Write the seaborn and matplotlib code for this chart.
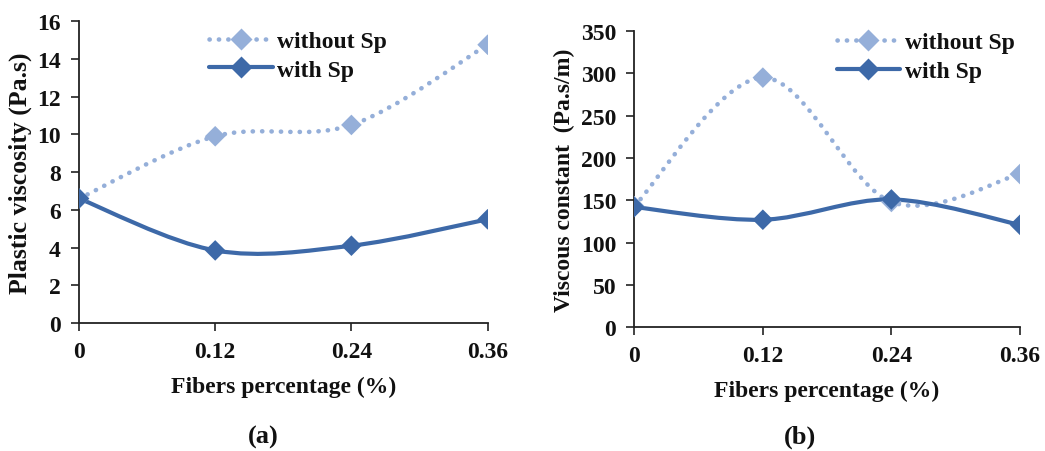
import seaborn as sns
import matplotlib.pyplot as plt
import numpy as np
import pandas as pd
from matplotlib.path import Path
from matplotlib.patches import PathPatch
from matplotlib.lines import Line2D

fibers = [0, 0.12, 0.24, 0.36]
fiber_labels = ['0', '0.12', '0.24', '0.36']

# (a) plastic viscosity, Pa.s
visc_without = [6.6, 9.9, 10.5, 14.75]
visc_with = [6.6, 3.85, 4.1, 5.5]

# (b) viscous constant, Pa.s/m
const_without = [143, 295, 148, 181]
const_with = [142, 127, 151, 121]

dark = '#3D69A8'
light = '#95AFD9'
dots = (0, (0.05, 2.0))

sns.set_style('ticks')
plt.rcParams['font.family'] = ['Liberation Serif', 'DejaVu Serif']
plt.rcParams['font.weight'] = 'bold'
plt.rcParams['text.color'] = '#111111'
plt.rcParams['axes.labelcolor'] = '#111111'
plt.rcParams['xtick.labelcolor'] = '#111111'
plt.rcParams['ytick.labelcolor'] = '#111111'


def smooth_path(x, y):
    # excel-like smoothed line: bezier segments with catmull-rom handles
    pts = np.column_stack([x, y]).astype(float)
    ext = np.vstack([pts[0], pts, pts[-1]])
    verts = [pts[0]]
    codes = [Path.MOVETO]
    for i in range(len(pts) - 1):
        p0, p1, p2, p3 = ext[i], ext[i + 1], ext[i + 2], ext[i + 3]
        verts += [p1 + (p2 - p0) / 6, p2 - (p3 - p1) / 6, p2]
        codes += [Path.CURVE4] * 3
    return Path(verts, codes)


def panel(ax, y_without, y_with, ymax, ystep, ylabel, ylab_size, leg_anchor):
    df = pd.DataFrame({'x': fibers * 2,
                       'y': y_without + y_with,
                       'serie': ['without Sp'] * 4 + ['with Sp'] * 4})
    ax.add_patch(PathPatch(smooth_path(fibers, y_without), fill=False, edgecolor=light,
                           lw=3.3, linestyle=dots, capstyle='round', zorder=2))
    ax.add_patch(PathPatch(smooth_path(fibers, y_with), fill=False, edgecolor=dark,
                           lw=3, zorder=3))
    sns.scatterplot(data=df, x='x', y='y', hue='serie', palette={'without Sp': light, 'with Sp': dark},
                    marker='D', s=110, edgecolor='none', legend=False, ax=ax, zorder=4)
    ax.set_xlim(0, 0.36)
    ax.set_ylim(0, ymax)
    ax.set_xticks(fibers)
    ax.set_xticklabels(fiber_labels)
    ax.set_yticks(np.arange(0, ymax + 1e-9, ystep))
    ax.tick_params(axis='both', labelsize=17, length=6, width=1.2, color='#222222', pad=7)
    for s in ['left', 'bottom']:
        ax.spines[s].set_linewidth(1.3)
        ax.spines[s].set_color('#222222')
    sns.despine(ax=ax)
    ax.set_xlabel('Fibers percentage (%)', fontsize=17, fontweight='bold', labelpad=10)
    ax.set_ylabel(ylabel, fontsize=ylab_size, fontweight='bold', labelpad=4)
    handles = [Line2D([], [], color=light, lw=3.3, linestyle=dots, dash_capstyle='round',
                      marker='D', markersize=11, markeredgecolor='none'),
               Line2D([], [], color=dark, lw=3, marker='D', markersize=11, markeredgecolor='none')]
    ax.legend(handles, ['without Sp', 'with Sp'], frameon=False, fontsize=17,
              loc='upper left', handlelength=2.7, handletextpad=0.2, labelspacing=0.3,
              borderaxespad=0, bbox_to_anchor=leg_anchor)


fig = plt.figure(figsize=(10.45, 4.52), dpi=100)
ax1 = fig.add_axes([0.0756, 0.283, 0.391, 0.668])
ax2 = fig.add_axes([0.607, 0.274, 0.369, 0.655])
panel(ax1, visc_without, visc_with, 16, 2, 'Plastic viscosity (Pa.s)', 18.5, (0.295, 1.0))
panel(ax2, const_without, const_with, 350, 50, 'Viscous constant  (Pa.s/m)', 17, (0.50, 1.03))

fig.text(0.252, 0.018, '(a)', fontsize=19, fontweight='bold', ha='center')
fig.text(0.766, 0.018, '(b)', fontsize=19, fontweight='bold', ha='center')

plt.savefig('out.png', dpi=100)
